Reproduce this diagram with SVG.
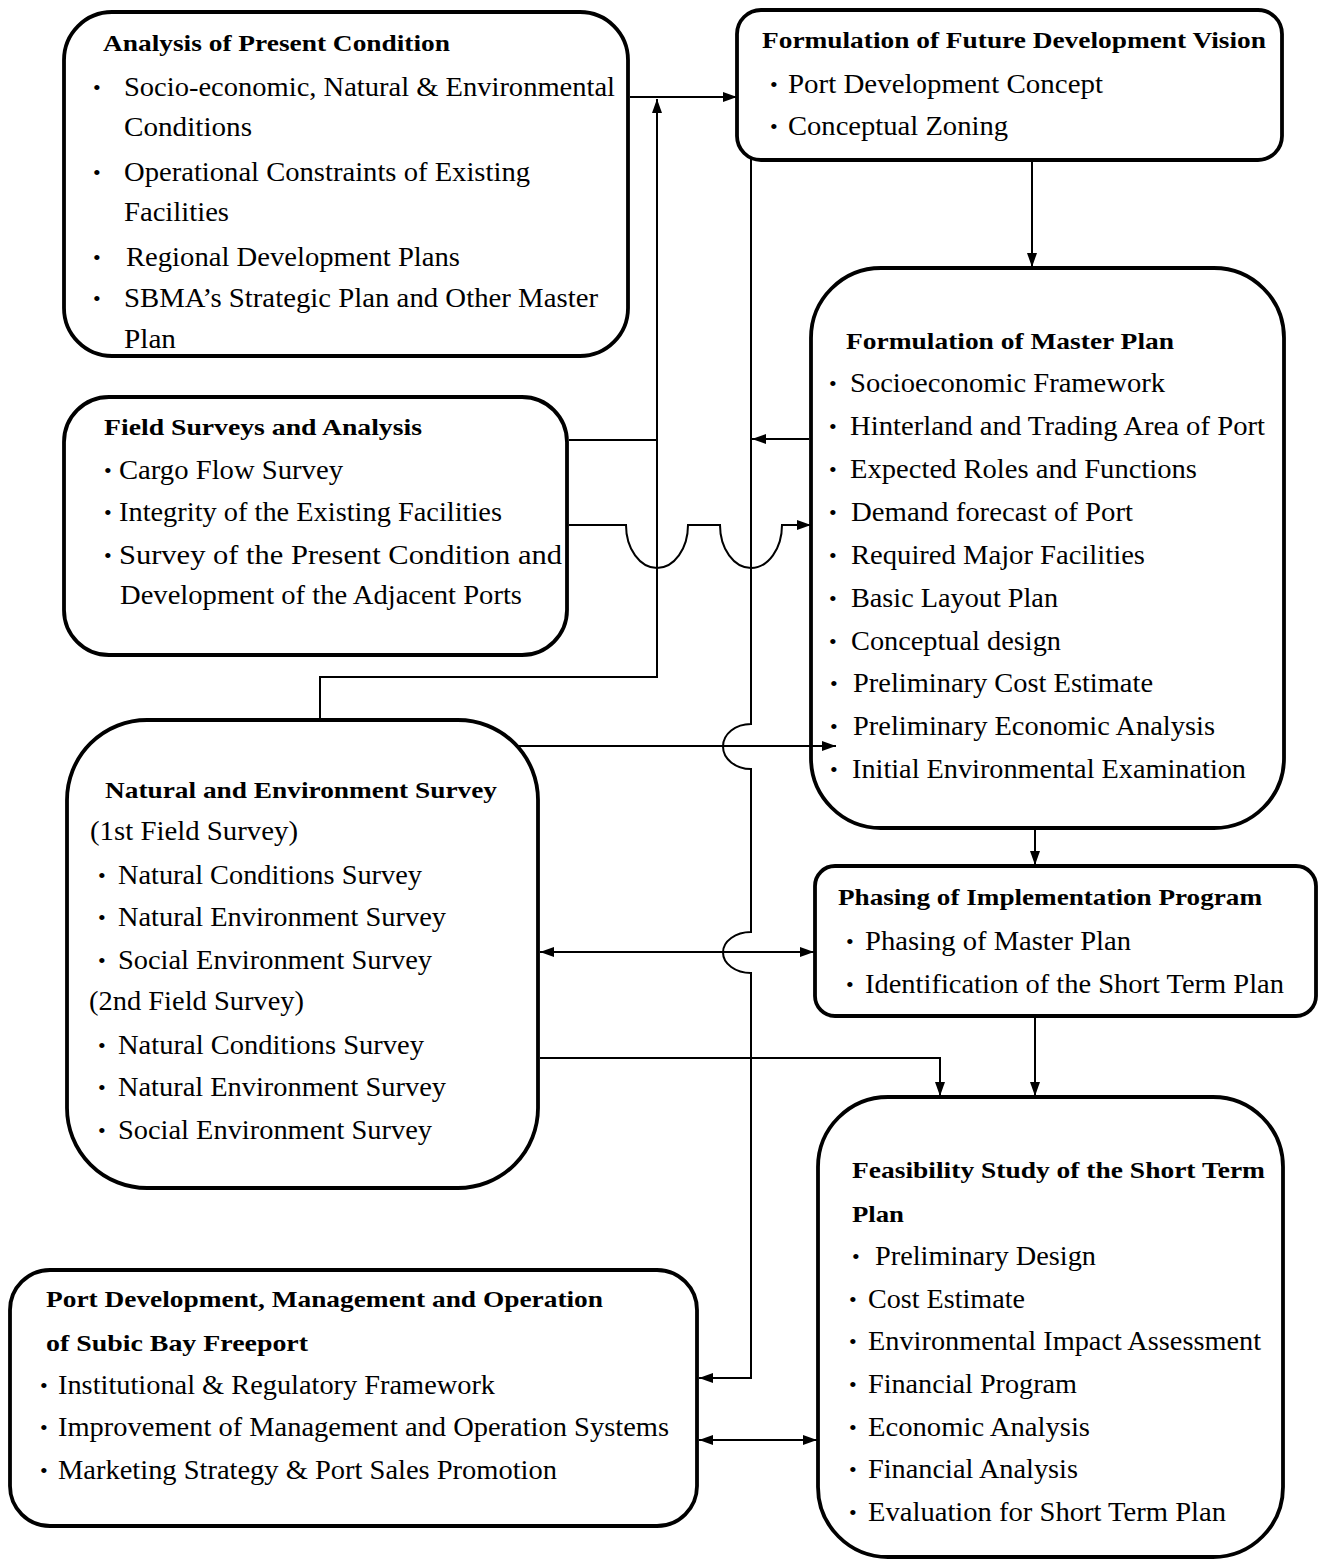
<svg xmlns="http://www.w3.org/2000/svg" width="1324" height="1562" viewBox="0 0 1324 1562">
<style>
.box{fill:#fff;stroke:#000;stroke-width:3.8}
.t{font-family:"Liberation Serif","Times New Roman",serif;font-weight:bold;font-size:24px;fill:#000}
.i{font-family:"Liberation Serif","Times New Roman",serif;font-size:27px;fill:#000}
.b{font-family:"Liberation Serif","Times New Roman",serif;font-size:22px;fill:#000}
.c{fill:none;stroke:#000;stroke-width:2}
</style>
<defs>
<marker id="arr" viewBox="0 0 14 10" refX="14" refY="5" markerWidth="14" markerHeight="10" markerUnits="userSpaceOnUse" orient="auto"><path d="M0,0 L14,5 L0,10 Z" fill="#000"/></marker>
<marker id="arrS" viewBox="0 0 14 10" refX="14" refY="5" markerWidth="14" markerHeight="10" markerUnits="userSpaceOnUse" orient="auto-start-reverse"><path d="M0,0 L14,5 L0,10 Z" fill="#000"/></marker>
</defs>
<rect width="1324" height="1562" fill="#fff"/>

<g id="analysis">
<rect class="box" x="64" y="12" width="564" height="344" rx="48"/>
<text class="t" x="103" y="51" textLength="347" lengthAdjust="spacingAndGlyphs">Analysis of Present Condition</text>
<text class="b" x="93" y="95">•</text>
<text class="i" x="124" y="96" textLength="491" lengthAdjust="spacingAndGlyphs">Socio-economic, Natural &amp; Environmental</text>
<text class="i" x="124" y="136" textLength="128" lengthAdjust="spacingAndGlyphs">Conditions</text>
<text class="b" x="93" y="180">•</text>
<text class="i" x="124" y="181" textLength="406" lengthAdjust="spacingAndGlyphs">Operational Constraints of Existing</text>
<text class="i" x="124" y="221" textLength="105" lengthAdjust="spacingAndGlyphs">Facilities</text>
<text class="b" x="93" y="265">•</text>
<text class="i" x="126" y="266" textLength="334" lengthAdjust="spacingAndGlyphs">Regional Development Plans</text>
<text class="b" x="93" y="306">•</text>
<text class="i" x="124" y="307" textLength="474" lengthAdjust="spacingAndGlyphs">SBMA’s Strategic Plan and Other Master</text>
<text class="i" x="124" y="348" textLength="52" lengthAdjust="spacingAndGlyphs">Plan</text>
</g>

<g id="vision">
<rect class="box" x="737" y="10" width="545" height="150" rx="24"/>
<text class="t" x="762" y="48" textLength="504" lengthAdjust="spacingAndGlyphs">Formulation of Future Development Vision</text>
<text class="b" x="770" y="92">•</text>
<text class="i" x="788" y="93" textLength="315" lengthAdjust="spacingAndGlyphs">Port Development Concept</text>
<text class="b" x="770" y="134">•</text>
<text class="i" x="788" y="135" textLength="220" lengthAdjust="spacingAndGlyphs">Conceptual Zoning</text>
</g>

<g id="field">
<rect class="box" x="64" y="397" width="503" height="258" rx="45"/>
<text class="t" x="104" y="435" textLength="318" lengthAdjust="spacingAndGlyphs">Field Surveys and Analysis</text>
<text class="b" x="104" y="478">•</text>
<text class="i" x="119" y="479" textLength="224" lengthAdjust="spacingAndGlyphs">Cargo Flow Survey</text>
<text class="b" x="104" y="520">•</text>
<text class="i" x="119" y="521" textLength="383" lengthAdjust="spacingAndGlyphs">Integrity of the Existing Facilities</text>
<text class="b" x="104" y="563">•</text>
<text class="i" x="119" y="564" textLength="443" lengthAdjust="spacingAndGlyphs">Survey  of  the  Present  Condition  and</text>
<text class="i" x="120" y="604" textLength="402" lengthAdjust="spacingAndGlyphs">Development of the Adjacent Ports</text>
</g>

<g id="masterplan">
<rect class="box" x="811" y="268" width="473" height="560" rx="70"/>
<text class="t" x="846" y="349" textLength="328" lengthAdjust="spacingAndGlyphs">Formulation of Master Plan</text>
<text class="b" x="829" y="391">•</text>
<text class="i" x="850" y="392" textLength="315" lengthAdjust="spacingAndGlyphs">Socioeconomic Framework</text>
<text class="b" x="829" y="434">•</text>
<text class="i" x="850" y="435" textLength="415" lengthAdjust="spacingAndGlyphs">Hinterland and Trading Area of Port</text>
<text class="b" x="829" y="477">•</text>
<text class="i" x="850" y="478" textLength="347" lengthAdjust="spacingAndGlyphs">Expected Roles and Functions</text>
<text class="b" x="829" y="520">•</text>
<text class="i" x="851" y="521" textLength="282" lengthAdjust="spacingAndGlyphs">Demand forecast of Port</text>
<text class="b" x="829" y="563">•</text>
<text class="i" x="851" y="564" textLength="294" lengthAdjust="spacingAndGlyphs">Required Major Facilities</text>
<text class="b" x="829" y="606">•</text>
<text class="i" x="851" y="607" textLength="207" lengthAdjust="spacingAndGlyphs">Basic Layout Plan</text>
<text class="b" x="829" y="649">•</text>
<text class="i" x="851" y="650" textLength="210" lengthAdjust="spacingAndGlyphs">Conceptual design</text>
<text class="b" x="830" y="691">•</text>
<text class="i" x="853" y="692" textLength="300" lengthAdjust="spacingAndGlyphs">Preliminary Cost Estimate</text>
<text class="b" x="830" y="734">•</text>
<text class="i" x="853" y="735" textLength="362" lengthAdjust="spacingAndGlyphs">Preliminary Economic Analysis</text>
<text class="b" x="830" y="777">•</text>
<text class="i" x="852" y="778" textLength="394" lengthAdjust="spacingAndGlyphs">Initial Environmental Examination</text>
</g>

<g id="natural">
<rect class="box" x="67" y="720" width="471" height="468" rx="80"/>
<text class="t" x="105" y="798" textLength="392" lengthAdjust="spacingAndGlyphs">Natural and Environment Survey</text>
<text class="i" x="90" y="840" textLength="208" lengthAdjust="spacingAndGlyphs">(1st Field Survey)</text>
<text class="b" x="98" y="883">•</text>
<text class="i" x="118" y="884" textLength="304" lengthAdjust="spacingAndGlyphs">Natural Conditions Survey</text>
<text class="b" x="98" y="925">•</text>
<text class="i" x="118" y="926" textLength="328" lengthAdjust="spacingAndGlyphs">Natural Environment Survey</text>
<text class="b" x="98" y="968">•</text>
<text class="i" x="118" y="969" textLength="314" lengthAdjust="spacingAndGlyphs">Social Environment Survey</text>
<text class="i" x="89" y="1010" textLength="215" lengthAdjust="spacingAndGlyphs">(2nd Field Survey)</text>
<text class="b" x="98" y="1053">•</text>
<text class="i" x="118" y="1054" textLength="306" lengthAdjust="spacingAndGlyphs">Natural Conditions Survey</text>
<text class="b" x="98" y="1095">•</text>
<text class="i" x="118" y="1096" textLength="328" lengthAdjust="spacingAndGlyphs">Natural Environment Survey</text>
<text class="b" x="98" y="1138">•</text>
<text class="i" x="118" y="1139" textLength="314" lengthAdjust="spacingAndGlyphs">Social Environment Survey</text>
</g>

<g id="phasing">
<rect class="box" x="815" y="866" width="501" height="150" rx="20"/>
<text class="t" x="838" y="905" textLength="424" lengthAdjust="spacingAndGlyphs">Phasing of Implementation Program</text>
<text class="b" x="846" y="949">•</text>
<text class="i" x="865" y="950" textLength="266" lengthAdjust="spacingAndGlyphs">Phasing of Master Plan</text>
<text class="b" x="846" y="992">•</text>
<text class="i" x="865" y="993" textLength="419" lengthAdjust="spacingAndGlyphs">Identification of the Short Term Plan</text>
</g>

<g id="feasibility">
<rect class="box" x="818" y="1097" width="465" height="460" rx="70"/>
<text class="t" x="852" y="1178" textLength="413" lengthAdjust="spacingAndGlyphs">Feasibility Study of the Short Term</text>
<text class="t" x="852" y="1222" textLength="52" lengthAdjust="spacingAndGlyphs">Plan</text>
<text class="b" x="852" y="1264">•</text>
<text class="i" x="875" y="1265" textLength="221" lengthAdjust="spacingAndGlyphs">Preliminary Design</text>
<text class="b" x="849" y="1307">•</text>
<text class="i" x="868" y="1308" textLength="157" lengthAdjust="spacingAndGlyphs">Cost Estimate</text>
<text class="b" x="849" y="1349">•</text>
<text class="i" x="868" y="1350" textLength="393" lengthAdjust="spacingAndGlyphs">Environmental Impact Assessment</text>
<text class="b" x="849" y="1392">•</text>
<text class="i" x="868" y="1393" textLength="209" lengthAdjust="spacingAndGlyphs">Financial Program</text>
<text class="b" x="849" y="1435">•</text>
<text class="i" x="868" y="1436" textLength="222" lengthAdjust="spacingAndGlyphs">Economic Analysis</text>
<text class="b" x="849" y="1477">•</text>
<text class="i" x="868" y="1478" textLength="210" lengthAdjust="spacingAndGlyphs">Financial Analysis</text>
<text class="b" x="849" y="1520">•</text>
<text class="i" x="868" y="1521" textLength="358" lengthAdjust="spacingAndGlyphs">Evaluation for Short Term Plan</text>
</g>

<g id="portdev">
<rect class="box" x="10" y="1270" width="687" height="256" rx="40"/>
<text class="t" x="46" y="1307" textLength="557" lengthAdjust="spacingAndGlyphs">Port Development, Management and Operation</text>
<text class="t" x="46" y="1351" textLength="262" lengthAdjust="spacingAndGlyphs">of Subic Bay Freeport</text>
<text class="b" x="40" y="1393">•</text>
<text class="i" x="58" y="1394" textLength="437" lengthAdjust="spacingAndGlyphs">Institutional &amp; Regulatory Framework</text>
<text class="b" x="40" y="1435">•</text>
<text class="i" x="58" y="1436" textLength="611" lengthAdjust="spacingAndGlyphs">Improvement of Management and Operation Systems</text>
<text class="b" x="40" y="1478">•</text>
<text class="i" x="58" y="1479" textLength="499" lengthAdjust="spacingAndGlyphs">Marketing Strategy &amp; Port Sales Promotion</text>
</g>

<g id="connectors">
<path class="c" d="M630,97 H737" marker-end="url(#arr)"/>
<path class="c" d="M320,718 V677 H657 V99" marker-end="url(#arr)"/>
<path class="c" d="M569,440 H657"/>
<path class="c" d="M569,525 H626 A31,43 0 0 0 688,525 H720 A31,43 0 0 0 782,525 H811" marker-end="url(#arr)"/>
<path class="c" d="M751,159 V724 A28,22.5 0 0 0 751,769 V932 A28,20.5 0 0 0 751,973 V1378 H699" marker-end="url(#arr)"/>
<path class="c" d="M809,439 H752" marker-end="url(#arr)"/>
<path class="c" d="M516,746 H836" marker-end="url(#arr)"/>
<path class="c" d="M540,952 H814" marker-start="url(#arrS)" marker-end="url(#arrS)"/>
<path class="c" d="M540,1058 H940 V1096" marker-end="url(#arr)"/>
<path class="c" d="M1032,162 V267" marker-end="url(#arr)"/>
<path class="c" d="M1035,830 V865" marker-end="url(#arr)"/>
<path class="c" d="M1035,1018 V1096" marker-end="url(#arr)"/>
<path class="c" d="M699,1440 H817" marker-start="url(#arrS)" marker-end="url(#arrS)"/>
</g>
</svg>
